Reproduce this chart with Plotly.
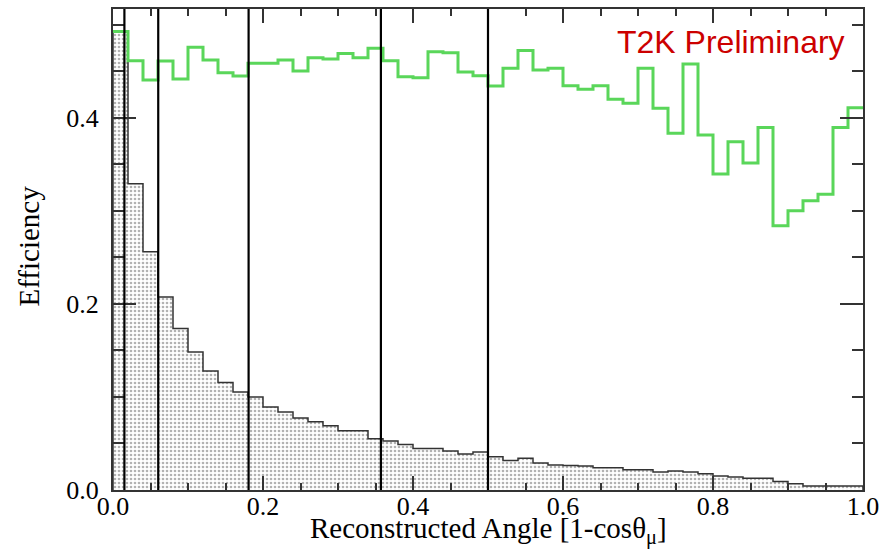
import plotly.graph_objects as go

# Binning: 50 bins of width 0.02 in 1-cos(theta_mu)
bin_width = 0.02
bin_lo = [round(i * bin_width, 2) for i in range(50)]

# Reconstructed angle distribution (stippled histogram)
hist_counts = [
    0.492, 0.329, 0.256, 0.2074, 0.1734, 0.1483, 0.1279, 0.1154, 0.1053, 0.0999,
    0.0891, 0.0838, 0.0774, 0.0734, 0.0691, 0.0637, 0.0637, 0.0551, 0.0526, 0.0490,
    0.0447, 0.0447, 0.0419, 0.0386, 0.0408, 0.0358, 0.0318, 0.0340, 0.0289, 0.0268,
    0.0264, 0.0257, 0.0240, 0.0240, 0.0218, 0.0218, 0.0193, 0.0203, 0.0193, 0.0175,
    0.0150, 0.0139, 0.0125, 0.0125, 0.0092, 0.0068, 0.0042, 0.0042, 0.0042, 0.0042,
]

# Selection efficiency per bin (green)
efficiency = [
    0.4924, 0.4612, 0.4404, 0.4609, 0.4415, 0.4756, 0.4619, 0.4483, 0.4447, 0.4583,
    0.4583, 0.4619, 0.4501, 0.4644, 0.4630, 0.4690, 0.4644, 0.4745, 0.4612, 0.4440,
    0.4429, 0.4709, 0.4698, 0.4490, 0.4450, 0.4340, 0.4530, 0.4720, 0.4512, 0.4530,
    0.4343, 0.4304, 0.4343, 0.4197, 0.4154, 0.4530, 0.4100, 0.3831, 0.4576, 0.3813,
    0.3394, 0.3741, 0.3514, 0.3895, 0.2838, 0.2999, 0.3106, 0.3178, 0.3895, 0.4106,
]

# Angular bin boundaries (10, 20, 35, 50, 60 degrees)
angle_cuts = [0.0152, 0.0603, 0.1808, 0.3572, 0.5]

x_tick_vals = [0.0, 0.2, 0.4, 0.6, 0.8, 1.0]
y_tick_vals = [0.0, 0.2, 0.4]

bin_centers = [lo + bin_width / 2 for lo in bin_lo]
edges_step = [0.0] + bin_lo + [1.0, 1.0]
hist_step = [0.0] + hist_counts + [hist_counts[-1], 0.0]
eff_step_x = bin_lo + [1.0]
eff_step_y = efficiency + [efficiency[-1]]

fig = go.Figure()

fig.add_trace(go.Bar(
    x=bin_centers, y=hist_counts, width=bin_width,
    marker=dict(
        color="white",
        line=dict(width=0),
        pattern=dict(shape=".", fgcolor="#666666", bgcolor="white", size=4, solidity=0.35),
    ),
    showlegend=False, hoverinfo="skip",
))

fig.add_trace(go.Scatter(
    x=edges_step, y=hist_step, mode="lines",
    line=dict(shape="hv", color="#333333", width=1.5),
    showlegend=False, hoverinfo="skip",
))

fig.add_trace(go.Scatter(
    x=eff_step_x, y=eff_step_y, mode="lines",
    line=dict(shape="hv", color="#5ad65a", width=3),
    showlegend=False,
))

for c in angle_cuts:
    fig.add_shape(type="line", x0=c, x1=c, y0=0, y1=1, xref="x", yref="paper",
                  line=dict(color="black", width=2.2))

fig.add_annotation(
    text="T2K Preliminary", x=0.978, y=0.481, xref="x", yref="y",
    xanchor="right", yanchor="middle", showarrow=False,
    font=dict(family="Liberation Sans, Arial, sans-serif", size=32, color="#cc0000"),
)

serif = "Liberation Serif, Times New Roman, serif"

# Axis titles
fig.add_annotation(
    text="Reconstructed Angle [1-cosθ<sub>μ</sub>]",
    x=0.5, y=0, xref="paper", yref="paper", xanchor="center", yanchor="top",
    yshift=-20, showarrow=False,
    font=dict(family=serif, size=29, color="black"),
)
fig.add_annotation(
    text="Efficiency", textangle=-90,
    x=0, y=0.5, xref="paper", yref="paper", xanchor="center", yanchor="middle",
    xshift=-85, yshift=3, showarrow=False,
    font=dict(family=serif, size=29, color="black"),
)

fig.update_layout(
    width=894, height=555,
    margin=dict(l=113, r=31, t=9, b=65),
    paper_bgcolor="white", plot_bgcolor="white",
    bargap=0, showlegend=False,
    font=dict(family=serif, color="black"),
    xaxis=dict(
        range=[0, 1], tickvals=x_tick_vals, tickformat=".1f",
        ticks="inside", ticklen=14, tickwidth=1.5, tickcolor="#333333",
        minor=dict(dtick=0.05, ticks="inside", ticklen=7, tickwidth=1.5, tickcolor="#333333", showgrid=False),
        showline=True, linecolor="#333333", linewidth=2, mirror="allticks",
        showgrid=False, zeroline=False, automargin=False,
        tickfont=dict(family=serif, size=26, color="black"),
        ticklabelstandoff=-8,
    ),
    yaxis=dict(
        range=[0, 0.5167], tickvals=y_tick_vals, tickformat=".1f",
        ticks="inside", ticklen=23, tickwidth=1.5, tickcolor="#333333",
        minor=dict(dtick=0.05, ticks="inside", ticklen=11, tickwidth=1.5, tickcolor="#333333", showgrid=False),
        showline=True, linecolor="#333333", linewidth=2, mirror="allticks",
        showgrid=False, zeroline=False, automargin=False,
        tickfont=dict(family=serif, size=26, color="black"),
        ticklabelstandoff=7,
    ),
)

fig.write_html("out.html")
